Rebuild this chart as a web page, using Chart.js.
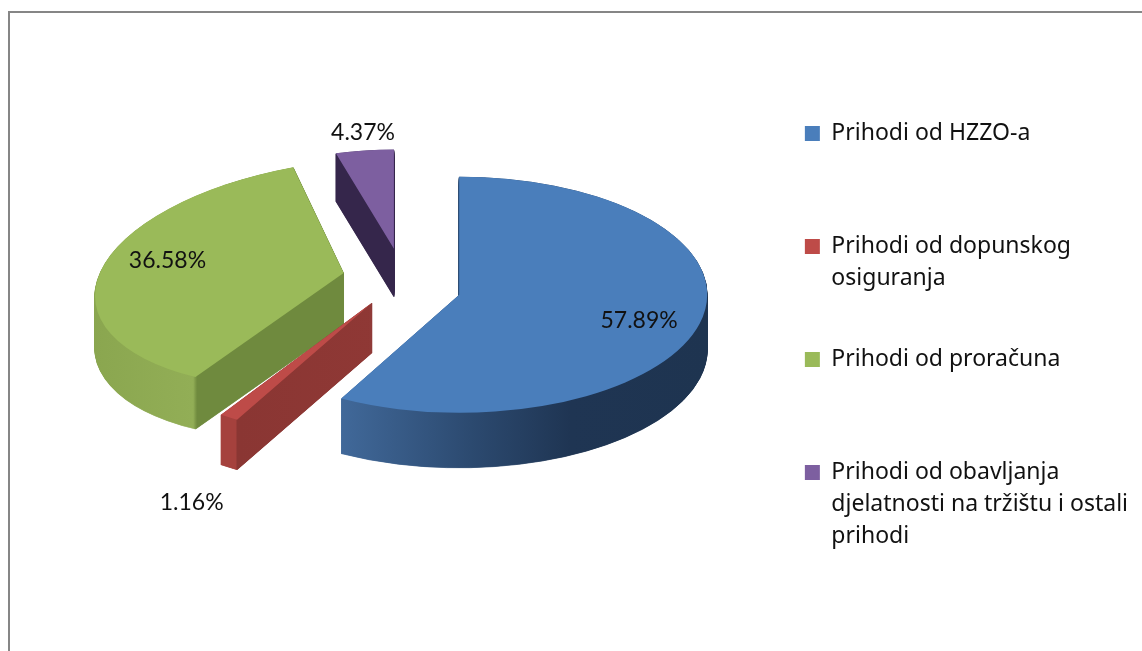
<!DOCTYPE html>
<html>
<head>
<meta charset="utf-8">
<title>Prihodi</title>
<script src="https://cdn.jsdelivr.net/npm/chart.js@4"></script>
<style>
html,body{margin:0;padding:0;background:#fff;overflow:hidden}
#frame{position:absolute;left:8px;top:11px;right:0;bottom:0;border-left:2px solid #868686;border-top:2px solid #868686}
#wrap{position:absolute;left:0;top:0;width:1142px;height:651px}
</style>
</head>
<body>
<div id="frame"></div>
<div id="wrap"><canvas id="pie"></canvas></div>
<script>
const categories = [
["Prihodi od HZZO-a"],
["Prihodi od dopunskog","osiguranja"],
["Prihodi od proračuna"],
["Prihodi od obavljanja","djelatnosti na tržištu i ostali","prihodi"]
]
const shares = [57.89,1.16,36.58,4.37]
const topColors = ["#4a7ebb","#be4b48","#9aba59","#7d5fa0"]

// look of the tilted pie
const pieX = 402
const pieY = 278
const tilt = 0.465
const explode = 59
const depths = [55,50,52,48]
const drawOrder = [3,2,1,0]
// per slice tilt, a fake for the perspective: xx,xy,yx,yy and a nudge of the tip
const warps = [[1,0,0,0.476],[1.054,-0.049,0.006,0.54],[1,-0.07,-0.06,0.46],[0.864,0,0,0.4]]
const tipNudge = [10,1,-1,-2]
// label position: fraction of radius from the slice tip, then nudges x,y
const labelAt = [[0.74,2,15],[1.41,-3,61],[0.71,-2,-1],[1.0,3,-4]]
// side colours along the slice's own x, 0 is the tip
const sideStops = [
[[-120,"#41699a"],[11,"#2c4a70"],[111,"#1f3553"],[249,"#1e3450"]],
[[-134,"#a5413d"],[-119,"#a5413d"],[-118,"#8a3633"],[0,"#8f3835"]],
[[-248,"#8aa64f"],[-136,"#92ae56"],[-132,"#6f8a3e"],[0,"#6f8a3e"]],
[[-68,"#35264b"],[0,"#35264b"]]
]

function sideFill(ctx,i,x0){
const stops = sideStops[i]
const first = stops[0][0]
const last = stops[stops.length-1][0]
const g = ctx.createLinearGradient(x0+first,0,x0+last,0)
stops.forEach(s => g.addColorStop((s[0]-first)/(last-first),s[1]))
return g
}

function placeArc(ctx,arc,i,down){
const mid = (arc.startAngle+arc.endAngle)/2
const w = warps[i]
ctx.translate(pieX+Math.cos(mid)*explode,pieY+Math.sin(mid)*explode*tilt+tipNudge[i]+down)
ctx.transform(w[0],w[2],w[1],w[3],0,0)
ctx.translate(-arc.x,-arc.y)
}

const tiltPlugin = {
id:"tilt",
// the library's own arcs, but each one tilted, pulled out and extruded
beforeDatasetDraw(chart){
const ctx = chart.ctx
const arcs = chart.getDatasetMeta(0).data
drawOrder.forEach(i => {
const arc = arcs[i]
const saved = arc.options
const fill = sideFill(ctx,i,arc.x)
arc.options = Object.assign({},saved,{backgroundColor:fill,borderColor:fill,borderWidth:1,borderAlign:"center"})
for(let d=depths[i];d>0;d-=0.5){
ctx.save()
placeArc(ctx,arc,i,d)
arc.draw(ctx)
ctx.restore()
}
arc.options = saved
ctx.save()
placeArc(ctx,arc,i,0)
arc.draw(ctx)
ctx.restore()
})
return false
},
afterDatasetsDraw(chart){
const ctx = chart.ctx
const arcs = chart.getDatasetMeta(0).data
ctx.save()
ctx.font = "23px Lato"
ctx.fillStyle = "#111"
ctx.textAlign = "center"
ctx.textBaseline = "middle"
arcs.forEach((arc,i) => {
const mid = (arc.startAngle+arc.endAngle)/2
const r = explode+labelAt[i][0]*arc.outerRadius
ctx.fillText(shares[i].toFixed(2)+"%",pieX+Math.cos(mid)*r+labelAt[i][1],pieY+Math.sin(mid)*r*tilt+labelAt[i][2])
})
ctx.restore()
}
}

new Chart(document.getElementById("pie"),{
type:"pie",
data:{
labels:categories,
datasets:[{
data:shares,
backgroundColor:topColors,
borderWidth:0
}]
},
options:{
responsive:true,
maintainAspectRatio:false,
animation:false,
radius:248,
layout:{padding:{top:105,right:4}},
plugins:{
tooltip:{enabled:false},
legend:{
position:"right",
align:"start",
labels:{
color:"#111",
boxWidth:15,
boxHeight:15,
padding:17,
font:{family:"Noto Sans",size:23,lineHeight:32/23},
generateLabels(chart){
const items = Chart.overrides.pie.plugins.legend.labels.generateLabels(chart)
items.forEach(it => {
it.text = it.text.concat(["","",""]).slice(0,3)
it.lineWidth = 0
})
return items
}
}
}
}
},
plugins:[tiltPlugin]
})
</script>
</body>
</html>
